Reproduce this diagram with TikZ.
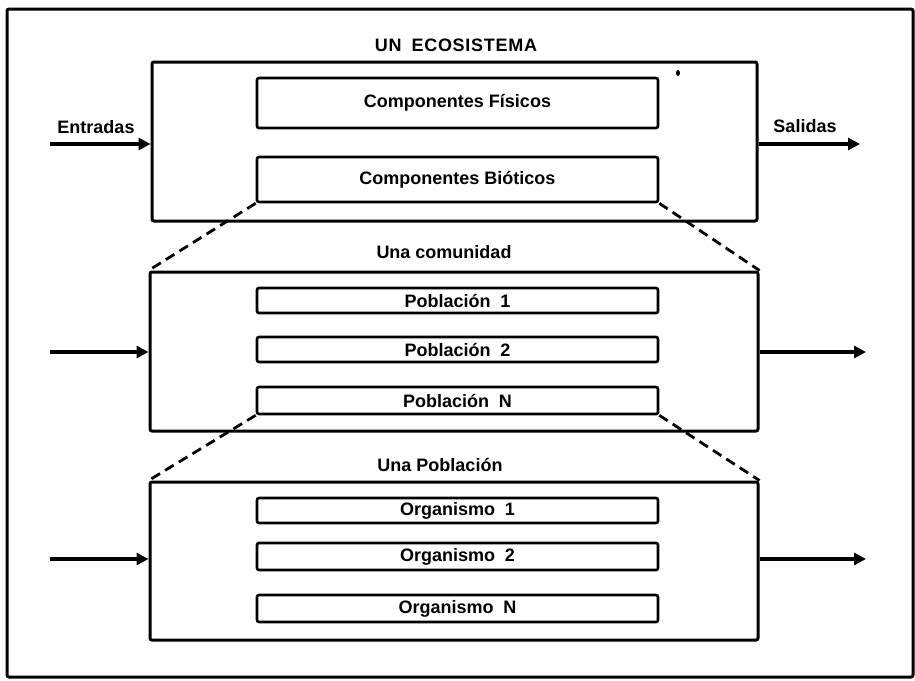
\documentclass[tikz,border=0pt]{standalone}
\usepackage{fontspec}
\setmainfont{Liberation Sans}
\usetikzlibrary{arrows.meta}
\newcommand{\gapsp}{\hspace{0.55em}}
\tikzset{
  frame/.style={draw, line width=1.5pt, rounded corners=1pt},
  bigbox/.style={draw, line width=1.5pt, inner sep=0pt, rounded corners=1pt, minimum width=304pt, minimum height=79.5pt},
  smallbox/.style={draw, line width=1.3pt, inner sep=0pt, rounded corners=1pt, minimum width=200.5pt, font=\fontsize{9}{10}\selectfont\bfseries},
  lbl/.style={font=\fontsize{9}{10}\selectfont\bfseries, inner sep=0pt},
  arr/.style={line width=2pt, -{Triangle[length=6pt,width=6pt]}},
  link/.style={line width=1.4pt, dash pattern=on 5pt off 3pt}
}
\begin{document}
\begin{tikzpicture}[x=0.5pt,y=-0.5pt]
\useasboundingbox (0,0) rectangle (915,680);
\draw[frame] (7,9) rectangle (913,677);
% level 1
\node[lbl] (t1) at (456,45) {\addfontfeature{LetterSpace=4}UN\gapsp ECOSISTEMA};
\node[bigbox, minimum width=302.5pt, minimum height=79.5pt] (box1) at (454.5,141.5) {};
\node[smallbox, minimum height=25pt] (fis) at (457.5,103) {Componentes Físicos};
\node[smallbox, minimum height=22.5pt] (bio) at (457.5,179.5) {Componentes Bióticos};
\fill (678,73) ellipse [x radius=2, y radius=3];
\node[lbl] (ent) at (96,127) {Entradas};
\node[lbl] (sal) at (805,126) {Salidas};
\coordinate (in1) at (50,144);
\coordinate (out1) at (860,144);
\draw[arr] (in1) -- (in1 -| box1.west);
\draw[arr] (box1.east |- out1) -- (out1);
% level 2
\node[lbl] (t2) at (444,252) {Una comunidad};
\node[bigbox, minimum height=79.5pt] (box2) at (454,351.5) {};
\node[smallbox, minimum height=12.5pt] (p1) at (457.5,300.5) {Población\gapsp 1};
\node[smallbox, minimum height=12.5pt] (p2) at (457.5,349.5) {Población\gapsp 2};
\node[smallbox, minimum height=13.5pt] (pn) at (457.5,400.5) {Población\gapsp N};
\coordinate (in2) at (50,352);
\coordinate (out2) at (866,352);
\draw[arr] (in2) -- (in2 -| box2.west);
\draw[arr] (box2.east |- out2) -- (out2);
\draw[link] (bio.south west) -- (box2.north west);
\draw[link] (bio.south east) -- (box2.north east);
% level 3
\node[lbl] (t3) at (440,465) {Una Población};
\node[bigbox, minimum height=79pt] (box3) at (454,561) {};
\node[smallbox, minimum height=12.5pt] (o1) at (457.5,510.5) {Organismo\gapsp 1};
\node[smallbox, minimum height=13.5pt] (o2) at (457.5,556.5) {Organismo\gapsp 2};
\node[smallbox, minimum height=13.5pt] (on) at (457.5,608.5) {Organismo\gapsp N};
\coordinate (in3) at (50,559);
\coordinate (out3) at (866,559);
\draw[arr] (in3) -- (in3 -| box3.west);
\draw[arr] (box3.east |- out3) -- (out3);
\draw[link] (pn.south west) -- (box3.north west);
\draw[link] (pn.south east) -- (box3.north east);
\end{tikzpicture}
\end{document}
